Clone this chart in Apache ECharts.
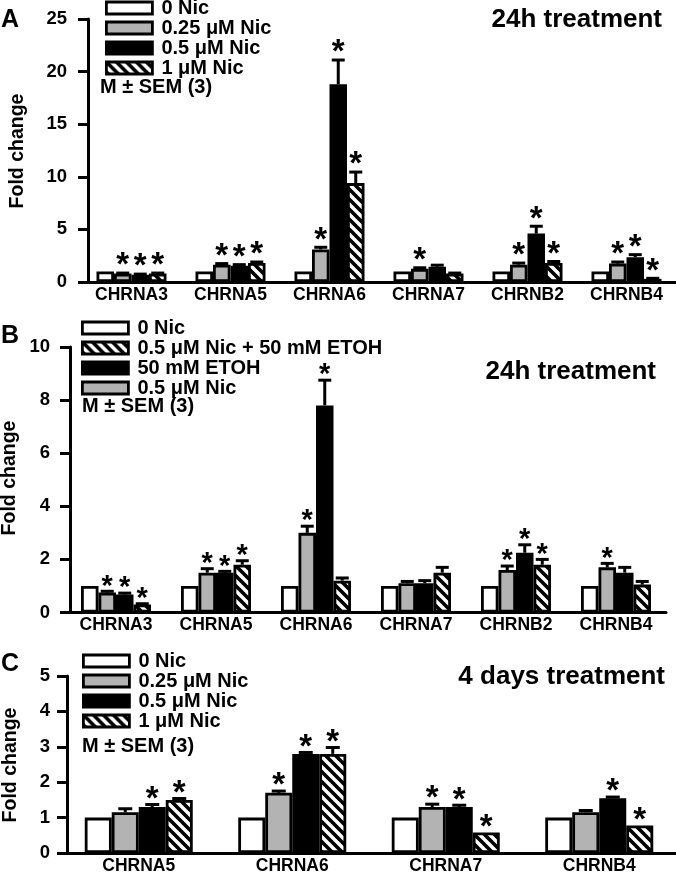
<!DOCTYPE html>
<html>
<head>
<meta charset="utf-8">
<script src="https://cdn.jsdelivr.net/npm/echarts@6/dist/echarts.min.js"></script>
<style>
html,body{margin:0;padding:0;background:#fff;}
#chart{width:676px;height:875px;}
</style>
</head>
<body>
<div id="chart"></div>
<script>
// ---------- DATA ----------
// Panel A (24h treatment)
const catsA = ['CHRNA3','CHRNA5','CHRNA6','CHRNA7','CHRNB2','CHRNB4'];
const namesA = ['0 Nic','0.25 μM Nic','0.5 μM Nic','1 μM Nic'];
const valA0   = [1, 1, 1, 1, 1, 1];
const valA025 = [0.8, 1.65, 3.1, 1.25, 1.65, 1.75];
const valA05  = [0.7, 1.55, 18.8, 1.45, 4.6, 2.35];
const valA1   = [0.8, 1.8, 9.4, 0.8, 1.8, 0.3];
const errA0   = [0, 0, 0, 0, 0, 0];
const errA025 = [0.05, 0.1, 0.2, 0.1, 0.15, 0.15];
const errA05  = [0.05, 0.1, 2.3, 0.15, 0.7, 0.25];
const errA1   = [0.05, 0.1, 1.05, 0.05, 0.15, 0.05];
const sigA0   = [0, 0, 0, 0, 0, 0];
const sigA025 = [1, 1, 1, 1, 1, 1];
const sigA05  = [1, 1, 1, 0, 1, 1];
const sigA1   = [1, 1, 1, 0, 1, 1];

// Panel B (24h treatment, ETOH)
const catsB = ['CHRNA3','CHRNA5','CHRNA6','CHRNA7','CHRNB2','CHRNB4'];
const namesB = ['0 Nic','0.5 μM Nic','50 mM ETOH','0.5 μM Nic + 50 mM ETOH']; // bar order
const legendOrderB = ['0 Nic','0.5 μM Nic + 50 mM ETOH','50 mM ETOH','0.5 μM Nic'];
const valB0    = [1, 1, 1, 1, 1, 1];
const valBNic  = [0.75, 1.5, 3.0, 1.1, 1.6, 1.7];
const valBEtoh = [0.68, 1.5, 7.8, 1.1, 2.25, 1.5];
const valBMix  = [0.3, 1.8, 1.2, 1.5, 1.8, 1.05];
const errB0    = [0, 0, 0, 0, 0, 0];
const errBNic  = [0.05, 0.15, 0.25, 0.07, 0.15, 0.15];
const errBEtoh = [0.05, 0.05, 0.95, 0.1, 0.3, 0.2];
const errBMix  = [0.03, 0.15, 0.1, 0.2, 0.2, 0.12];
const sigB0    = [0, 0, 0, 0, 0, 0];
const sigBNic  = [1, 1, 1, 0, 1, 1];
const sigBEtoh = [1, 1, 1, 0, 1, 0];
const sigBMix  = [1, 1, 0, 0, 1, 0];

// Panel C (4 days treatment)
const catsC = ['CHRNA5','CHRNA6','CHRNA7','CHRNB4'];
const namesC = ['0 Nic','0.25 μM Nic','0.5 μM Nic','1 μM Nic'];
const valC0   = [1, 1, 1, 1];
const valC025 = [1.15, 1.7, 1.3, 1.15];
const valC05  = [1.3, 2.8, 1.3, 1.55];
const valC1   = [1.5, 2.8, 0.58, 0.78];
const errC0   = [0, 0, 0, 0];
const errC025 = [0.1, 0.05, 0.08, 0.05];
const errC05  = [0.07, 0.04, 0.05, 0.03];
const errC1   = [0.04, 0.18, 0, 0];
const sigC0   = [0, 0, 0, 0];
const sigC025 = [0, 1, 1, 0];
const sigC05  = [1, 1, 1, 1];
const sigC1   = [1, 1, 1, 1];

const ticksA = {min: 0, max: 25, interval: 5};
const ticksB = {min: 0, max: 10, interval: 2};
const ticksC = {min: 0, max: 5, interval: 1};

// ---------- STYLE ----------
const FONT = '"Liberation Sans", Arial, Helvetica, sans-serif';
function hatchCanvas() {
  const s = 10;
  const c = document.createElement('canvas');
  c.width = s; c.height = s;
  const g = c.getContext('2d');
  g.fillStyle = '#fff'; g.fillRect(0, 0, s, s);
  g.strokeStyle = '#000'; g.lineWidth = 3.6; g.lineCap = 'square';
  g.beginPath();
  [-s, 0, s].forEach(k => { g.moveTo(k, 0); g.lineTo(k + s, s); });
  g.stroke();
  return c;
}
const HATCH = {image: hatchCanvas(), repeat: 'repeat'};
const WHITE = '#ffffff', GRAY = '#b3b3b3', BLACK = '#000000';

const panels = [
  {key: 'A', cats: catsA, ticks: ticksA, barW: 17.5, grid: {left: 82, width: 600, top: 19, height: 263}, yOffset: -6, labelMargin: 21,
   starFont: 33, starGap: 15, cap: 6.5,
   groups: [
     {name: namesA[0], v: valA0, e: errA0, s: sigA0, c: WHITE},
     {name: namesA[1], v: valA025, e: errA025, s: sigA025, c: GRAY},
     {name: namesA[2], v: valA05, e: errA05, s: sigA05, c: BLACK},
     {name: namesA[3], v: valA1, e: errA1, s: sigA1, c: HATCH}
   ], legendNames: namesA, legendPos: {left: 105, top: -2}},
  {key: 'B', cats: catsB, ticks: ticksB, barW: 17.5, grid: {left: 66, width: 600, top: 347, height: 265.5}, yOffset: -4, labelMargin: 20,
   starFont: 29, starGap: 12, cap: 6.5,
   groups: [
     {name: namesB[0], v: valB0, e: errB0, s: sigB0, c: WHITE},
     {name: namesB[1], v: valBNic, e: errBNic, s: sigBNic, c: GRAY},
     {name: namesB[2], v: valBEtoh, e: errBEtoh, s: sigBEtoh, c: BLACK},
     {name: namesB[3], v: valBMix, e: errBMix, s: sigBMix, c: HATCH}
   ], legendNames: legendOrderB, legendPos: {left: 81, top: 318}},
  {key: 'C', cats: catsC, ticks: ticksC, barW: 27, grid: {left: 62, width: 621, top: 676, height: 178}, yOffset: -5, labelMargin: 17,
   starFont: 33, starGap: 13, cap: 7,
   groups: [
     {name: namesC[0], v: valC0, e: errC0, s: sigC0, c: WHITE},
     {name: namesC[1], v: valC025, e: errC025, s: sigC025, c: GRAY},
     {name: namesC[2], v: valC05, e: errC05, s: sigC05, c: BLACK},
     {name: namesC[3], v: valC1, e: errC1, s: sigC1, c: HATCH}
   ], legendNames: namesC, legendPos: {left: 82, top: 651}}
];

const grids = [], xAxes = [], yAxes = [], series = [], legends = [];

panels.forEach((p, pi) => {
  grids.push(Object.assign({containLabel: false}, p.grid));
  xAxes.push({
    type: 'category', gridIndex: pi, data: p.cats, boundaryGap: true,
    axisLine: {show: true, onZero: false, lineStyle: {color: '#000', width: 3}},
    axisTick: {show: false},
    axisLabel: {color: '#000', fontSize: 17.5, fontWeight: 'bold', fontFamily: FONT, margin: 4, interval: 0},
    splitLine: {show: false}
  });
  yAxes.push({
    type: 'value', gridIndex: pi, min: p.ticks.min, max: p.ticks.max, interval: p.ticks.interval,
    offset: p.yOffset,
    axisLine: {show: true, lineStyle: {color: '#000', width: 3}},
    axisTick: {show: true, inside: false, length: 10, lineStyle: {color: '#000', width: 3}},
    axisLabel: {color: '#000', fontSize: 18.5, fontWeight: 'bold', fontFamily: FONT, margin: p.labelMargin},
    splitLine: {show: false}
  });
  const n = p.groups.length;
  p.groups.forEach((g, gi) => {
    series.push({
      type: 'bar', name: p.key + '|' + g.name, xAxisIndex: pi, yAxisIndex: pi,
      data: g.v, barWidth: p.barW, barGap: '0%',
      itemStyle: {color: g.c, borderColor: '#000', borderWidth: 2.8},
      emphasis: {disabled: true}, z: 2
    });
    const offs = (gi - (n - 1) / 2) * p.barW;
    series.push({
      type: 'custom', name: 'err' + p.key + gi, xAxisIndex: pi, yAxisIndex: pi, z: 5,
      data: g.v.map((v, i) => [i, v, g.e[i], g.s[i]]),
      encode: {x: 0, y: 1},
      silent: true,
      renderItem: function (params, api) {
        const ci = api.value(0), v = api.value(1), e = api.value(2), s = api.value(3);
        const base = api.coord([ci, v]);
        const top = api.coord([ci, v + e]);
        const x = base[0] + offs;
        const ch = [];
        if (e > 0) {
          ch.push({type: 'line', shape: {x1: x, y1: base[1], x2: x, y2: top[1]}, style: {stroke: '#000', lineWidth: 3}});
          ch.push({type: 'line', shape: {x1: x - p.cap, y1: top[1], x2: x + p.cap, y2: top[1]}, style: {stroke: '#000', lineWidth: 3}});
        }
        if (s) {
          ch.push({type: 'text', x: x, y: top[1] - p.starGap + 0.25 * p.starFont,
            style: {text: '*', fill: '#000', fontSize: p.starFont, fontWeight: 'bold', fontFamily: FONT, align: 'center', verticalAlign: 'middle'}});
        }
        return {type: 'group', children: ch};
      }
    });
  });
  legends.push({
    data: p.legendNames.map(nm => p.key + '|' + nm),
    formatter: name => name.split('|')[1],
    orient: 'vertical', left: p.legendPos.left, top: p.legendPos.top, padding: 0,
    icon: 'rect', itemWidth: 46, itemHeight: 12, itemGap: 0, selectedMode: false,
    itemStyle: {borderColor: '#000', borderWidth: 2.8},
    textStyle: {color: '#000', fontSize: 20, fontWeight: 'bold', fontFamily: FONT, lineHeight: 19.5, padding: [0, 0, 0, 4]}
  });
});

function txt(text, x, y, size, align, rot) {
  return {type: 'text', x: x, y: y, rotation: rot || 0,
    style: {text: text, fill: '#000', fontSize: size, fontWeight: 'bold', fontFamily: FONT, align: align || 'left', verticalAlign: 'middle'}};
}
const graphics = [
  txt('A', 1, 20, 25), txt('B', 1, 336, 25), txt('C', 1, 664, 25),
  txt('24h treatment', 662, 19.5, 26, 'right'),
  txt('24h treatment', 656, 372, 26, 'right'),
  txt('4 days treatment', 665, 677, 26, 'right'),
  txt('M ± SEM (3)', 100, 87, 20), txt('M ± SEM (3)', 82, 406, 20), txt('M ± SEM (3)', 82, 746, 20),
  txt('Fold change', 18, 151, 19.5, 'center', Math.PI / 2),
  txt('Fold change', 10, 478, 19.5, 'center', Math.PI / 2),
  txt('Fold change', 11, 765, 19.5, 'center', Math.PI / 2)
];

const chart = echarts.init(document.getElementById('chart'), null, {renderer: 'canvas'});
chart.setOption({
  animation: false,
  backgroundColor: '#fff',
  grid: grids, xAxis: xAxes, yAxis: yAxes, series: series, legend: legends,
  graphic: graphics
});
</script>
</body>
</html>
